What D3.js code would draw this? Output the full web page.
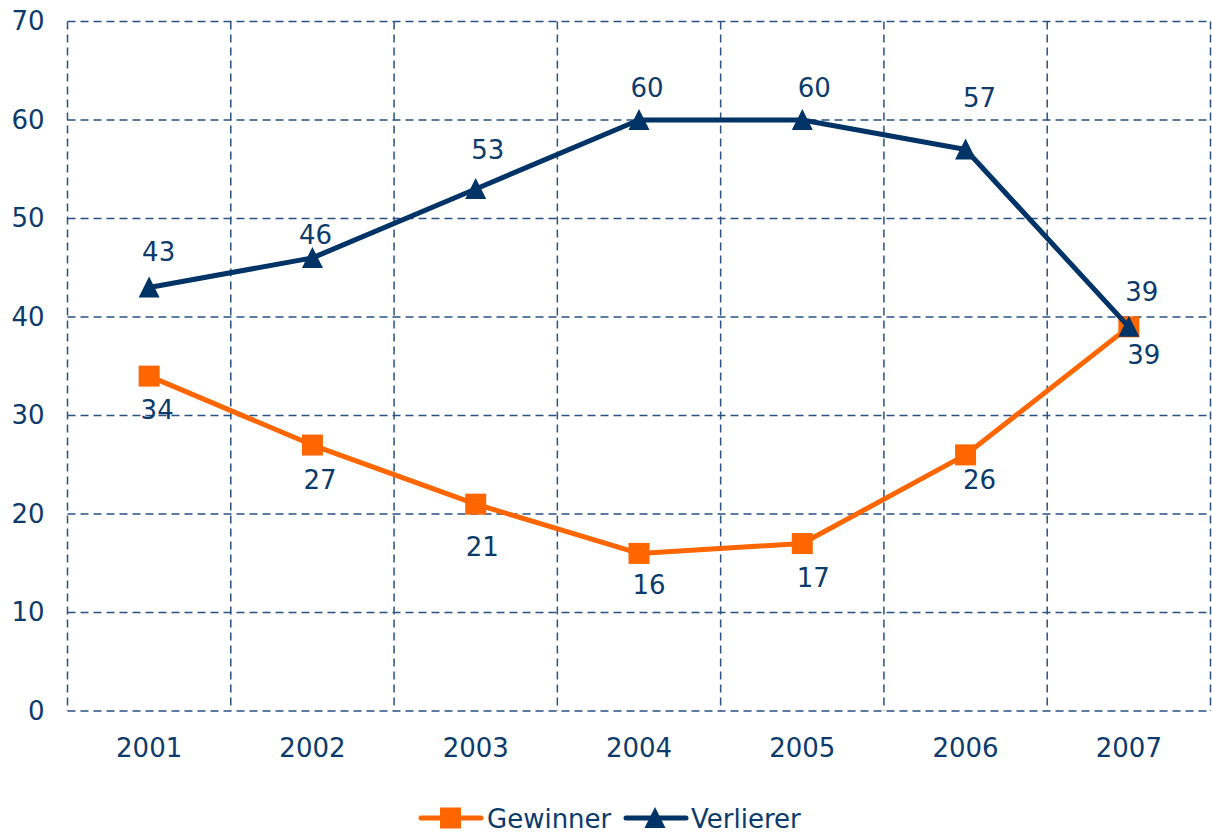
<!DOCTYPE html>
<html>
<head>
<meta charset="utf-8">
<script src="https://cdn.jsdelivr.net/npm/d3@7"></script>
<style>
    body { margin: 0; background: #fff; }
    text { font-family: Verdana, "DejaVu Sans", sans-serif; fill: #0b3a6b; }
</style>
</head>
<body>
<svg id="chart"></svg>
<script>
var years = ["2001", "2002", "2003", "2004", "2005", "2006", "2007"];
var gewinner = [34, 27, 21, 16, 17, 26, 39];
var verlierer = [43, 46, 53, 60, 60, 57, 39];
var yTicks = [0, 10, 20, 30, 40, 50, 60, 70];

// label nudges (px, relative to the point), as placed in the original
var verliererNudge = [[9.5, -35.5], [3, -23], [12, -39], [8, -33], [12, -33], [14, -52.5], [13, -35]];
var gewinnerNudge = [[8, 33.5], [7.5, 34.5], [6.5, 42], [10, 31], [11, 34], [14, 25], [15, 28]];

const width = 1212;
const height = 835;
const marginLeft = 67.5;
const marginRight = 1.5;
const marginTop = 21.5;
const plotBottom = 711;
const fontSize = "26px";

const navy = "#003366";
const orange = "#ff6600";

var svg = d3.select('#chart')
    .attr("width", width)
    .attr("height", height)
    .attr("viewBox", [0, 0, width, height]);

const x = d3.scaleBand(years, [marginLeft, width - marginRight]);
const y = d3.scaleLinear([0, 70], [plotBottom, marginTop]);
const cx = function(d) { return x(d) + x.bandwidth() / 2; };

// grid
var grid = svg.append("g")
    .attr("stroke", "#2a5283")
    .attr("stroke-width", 1.5)
    .attr("stroke-dasharray", "8,5");
grid.selectAll("line.h").data(yTicks).join("line")
    .attr("x1", marginLeft).attr("x2", width - marginRight)
    .attr("y1", function(d) { return y(d); }).attr("y2", function(d) { return y(d); });
var vlines = years.map(function(d) { return x(d); }).concat([x.range()[1]]);
grid.selectAll("line.v").data(vlines).join("line")
    .attr("x1", function(d) { return d; }).attr("x2", function(d) { return d; })
    .attr("y1", marginTop).attr("y2", plotBottom);

// y axis
var yAxis = svg.append("g")
    .attr("transform", "translate(" + (marginLeft - 23) + ",0)")
    .call(d3.axisLeft(y).tickValues(yTicks).tickSize(0).tickPadding(0));
yAxis.select(".domain").remove();
yAxis.selectAll("text").style("font-size", fontSize).style("fill", "#0b3a6b")
    .style("font-family", "Verdana, 'DejaVu Sans', sans-serif");

// x axis
var xAxis = svg.append("g")
    .attr("transform", "translate(0," + plotBottom + ")")
    .call(d3.axisBottom(x).tickSize(0).tickPadding(28));
xAxis.select(".domain").remove();
xAxis.selectAll("text").style("font-size", fontSize).style("fill", "#0b3a6b")
    .style("font-family", "Verdana, 'DejaVu Sans', sans-serif");

var line = d3.line()
    .x(function(d, i) { return cx(years[i]); })
    .y(function(d) { return y(d); });

// Gewinner
svg.append("path").datum(gewinner)
    .attr("fill", "none").attr("stroke", orange).attr("stroke-width", 5)
    .attr("stroke-linejoin", "round")
    .attr("d", line);
svg.append("g").selectAll("rect").data(gewinner).join("rect")
    .attr("x", function(d, i) { return cx(years[i]) - 10.5; })
    .attr("y", function(d) { return y(d) - 10.5; })
    .attr("width", 21).attr("height", 21)
    .attr("fill", orange);

// Verlierer
svg.append("path").datum(verlierer)
    .attr("fill", "none").attr("stroke", navy).attr("stroke-width", 5)
    .attr("stroke-linejoin", "round")
    .attr("d", line);
var tri = "M0,-11L10.5,10L-10.5,10Z";
svg.append("g").selectAll("path").data(verlierer).join("path")
    .attr("transform", function(d, i) { return "translate(" + cx(years[i]) + "," + y(d) + ")"; })
    .attr("d", tri)
    .attr("fill", navy);

// value labels
function addLabels(values, nudge) {
    svg.append("g").selectAll("text").data(values).join("text")
        .attr("x", function(d, i) { return cx(years[i]) + nudge[i][0]; })
        .attr("y", function(d, i) { return y(d) + nudge[i][1] + 9.5; })
        .attr("text-anchor", "middle")
        .style("font-size", fontSize)
        .text(function(d) { return d; });
}
addLabels(verlierer, verliererNudge);
addLabels(gewinner, gewinnerNudge);

// legend
var legend = svg.append("g").attr("transform", "translate(0,818)");
legend.append("line").attr("x1", 421).attr("x2", 481).attr("y1", 0).attr("y2", 0)
    .attr("stroke", orange).attr("stroke-width", 5).attr("stroke-linecap", "round");
legend.append("rect").attr("x", 440).attr("y", -10.5).attr("width", 21).attr("height", 21).attr("fill", orange);
legend.append("text").attr("x", 487).attr("y", 10).style("font-size", fontSize).text("Gewinner");
legend.append("line").attr("x1", 626).attr("x2", 686).attr("y1", 0).attr("y2", 0)
    .attr("stroke", navy).attr("stroke-width", 5).attr("stroke-linecap", "round");
legend.append("path").attr("transform", "translate(655,0)").attr("d", tri).attr("fill", navy);
legend.append("text").attr("x", 691).attr("y", 10).style("font-size", fontSize).text("Verlierer");
</script>
</body>
</html>
